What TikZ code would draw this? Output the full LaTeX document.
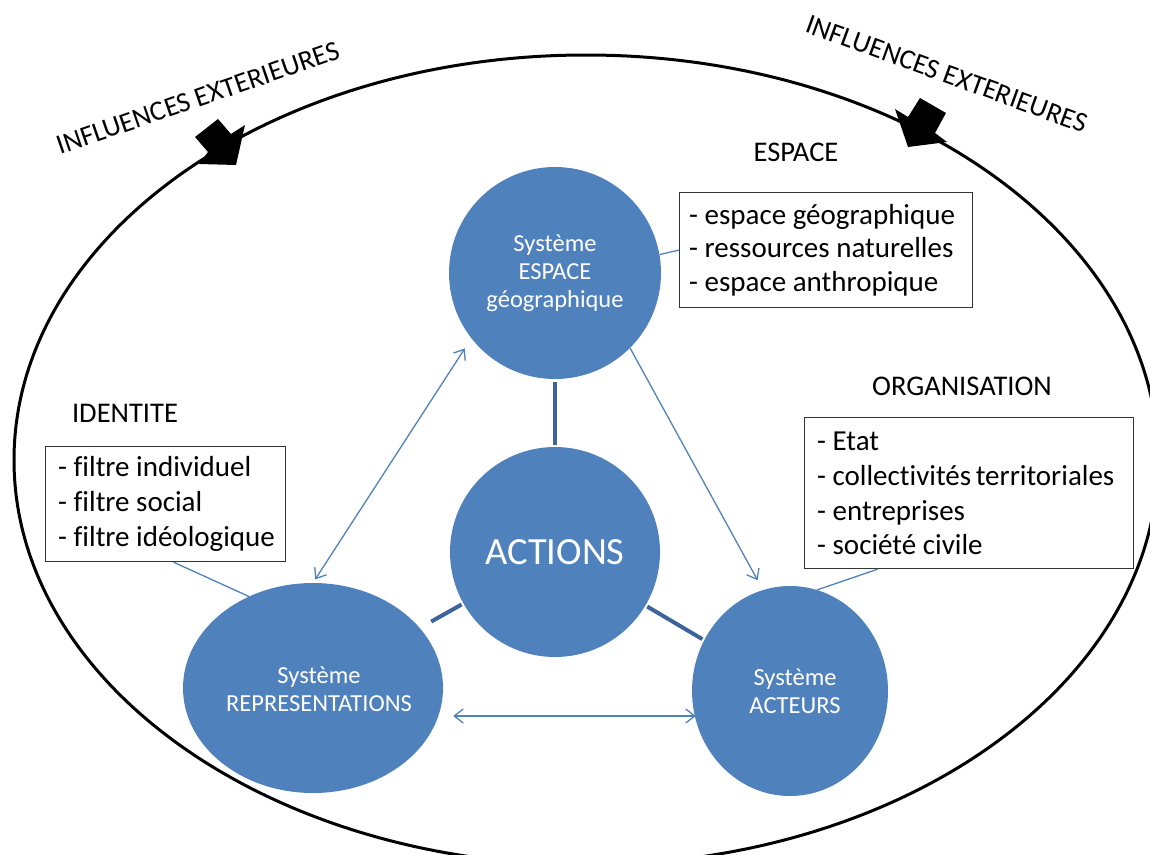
\documentclass[tikz,border=0pt]{standalone}
\usepackage{fontspec}
\setmainfont{Carlito}[Ligatures=CommonOff]
\usetikzlibrary{shapes.geometric,arrows.meta,calc}
\definecolor{fillblue}{RGB}{79,129,189}
\definecolor{linkblue}{RGB}{60,100,155}
\begin{document}
\begin{tikzpicture}[x=1pt,y=-1pt,
  bubble/.style={fill=fillblue, draw=none, text=white, align=center, inner sep=0pt,
                 font=\fontsize{24.5}{28}\selectfont},
  listbox/.style={draw=black!80, line width=1.2pt, fill=white, inner sep=0pt, anchor=north west},
  listline/.style={anchor=base west, inner sep=0pt, font=\fontsize{29}{34}\selectfont},
  heading/.style={inner sep=0pt, font=\fontsize{28.5}{34}\selectfont},
  linkline/.style={draw=linkblue, line width=4pt},
  callout/.style={draw=fillblue, line width=1.3pt},
  duoarrow/.style={callout, {Straight Barb[length=9pt,width=14pt]}-{Straight Barb[length=9pt,width=14pt]}},
  onearrow/.style={callout, -{Straight Barb[length=9pt,width=14pt]}},
  influence/.style={inner sep=0pt, font=\fontsize{28}{34}\selectfont}
]
\useasboundingbox (0,0) rectangle (1150,854);
\clip (0,0) rectangle (1150,854);

% main bubbles
\node[bubble, circle, minimum size=212pt] (espace) at (555,273) {};
\node[bubble] (espacetxt) at (555,273) {Système\\ESPACE\\géographique};
\node[bubble, circle, minimum size=210pt, font=\fontsize{38.5}{44}\selectfont] (actions) at (555,552) {ACTIONS};
\node[bubble, ellipse, minimum width=260pt, minimum height=210pt] (repr) at (313,688) {};
\node[bubble] (reprtxt) at (319,689) {Système\\REPRESENTATIONS};
\node[bubble, ellipse, minimum width=196pt, minimum height=210pt] (acteurs) at (790,691) {};
\node[bubble] (acteurstxt) at (795,691) {Système\\ACTEURS};

% thick links to ACTIONS
\draw[linkline, shorten <=3pt, shorten >=2pt] (espace) -- (actions);
\draw[linkline, shorten <=13pt, shorten >=2pt] (repr) -- (actions);
\draw[linkline, shorten <=2pt, shorten >=2pt] (acteurs) -- (actions);

% thin arrows
\draw[duoarrow, shorten <=4pt, shorten >=12pt] (repr.north) -- (espace.218);
\draw[onearrow, shorten >=11pt] (espace.-45) -- (acteurs.105);
\draw[duoarrow] ($(repr.east)+(10,28)$) coordinate (hl) -- ($(acteurs.west)+(4,25)$) coordinate (hr);

% list boxes
\node[listbox, minimum width=293pt, minimum height=115pt] (ebox) at (679,192) {};
\node[listline] (e1) at (689,224) {- espace géographique};
\node[listline] (e2) at (689,257.5) {- ressources naturelles};
\node[listline] (e3) at (689,291) {- espace anthropique};

\node[listbox, minimum width=240pt, minimum height=115pt] (ibox) at (45,446) {};
\node[listline] (i1) at (58,476) {- filtre individuel};
\node[listline] (i2) at (58,511) {- filtre social};
\node[listline] (i3) at (58,546) {- filtre idéologique};

\node[listbox, minimum width=329pt, minimum height=151pt] (obox) at (804,417) {};
\node[listline] (o1) at (817,450) {- Etat};
\node[listline] (o2) at (817,485) {- collectivités\hspace{-2pt} territoriales};
\node[listline] (o3) at (817,520) {- entreprises};
\node[listline] (o4) at (817,554) {- société civile};

% callout lines
\draw[callout] (ebox.west) -- (espace.10);
\draw[callout] ($(ibox.south)+(8,0)$) coordinate (ic) -- (repr.125);
\draw[callout] ($(obox.south)+(-91.5,0)$) coordinate (oc) -- (acteurs.75);

% headings
\node[heading] (hesp) at (796,152) {ESPACE};
\node[heading, anchor=base] (hid) at (125,422) {IDENTITE};
\node[heading, anchor=base] (horg) at (962,395) {ORGANISATION};

% outer ellipse
\draw[line width=3pt] (586,460) ellipse [x radius=572pt, y radius=405pt];

% external influence arrows
\fill (195,137) -- (218,119) -- (231,134) -- (245,125) -- (236,165) -- (199,164) -- (208,152) -- cycle;
\fill (920,98) -- (946,113) -- (935,133) -- (947,142) -- (908,147) -- (895,109) -- (908,117) -- cycle;

\node[influence, rotate=19] (infl) at (198,98) {INFLUENCES EXTERIEURES};
\node[influence, rotate=-20] (infr) at (947,74) {INFLUENCES EXTERIEURES};
\end{tikzpicture}
\end{document}
